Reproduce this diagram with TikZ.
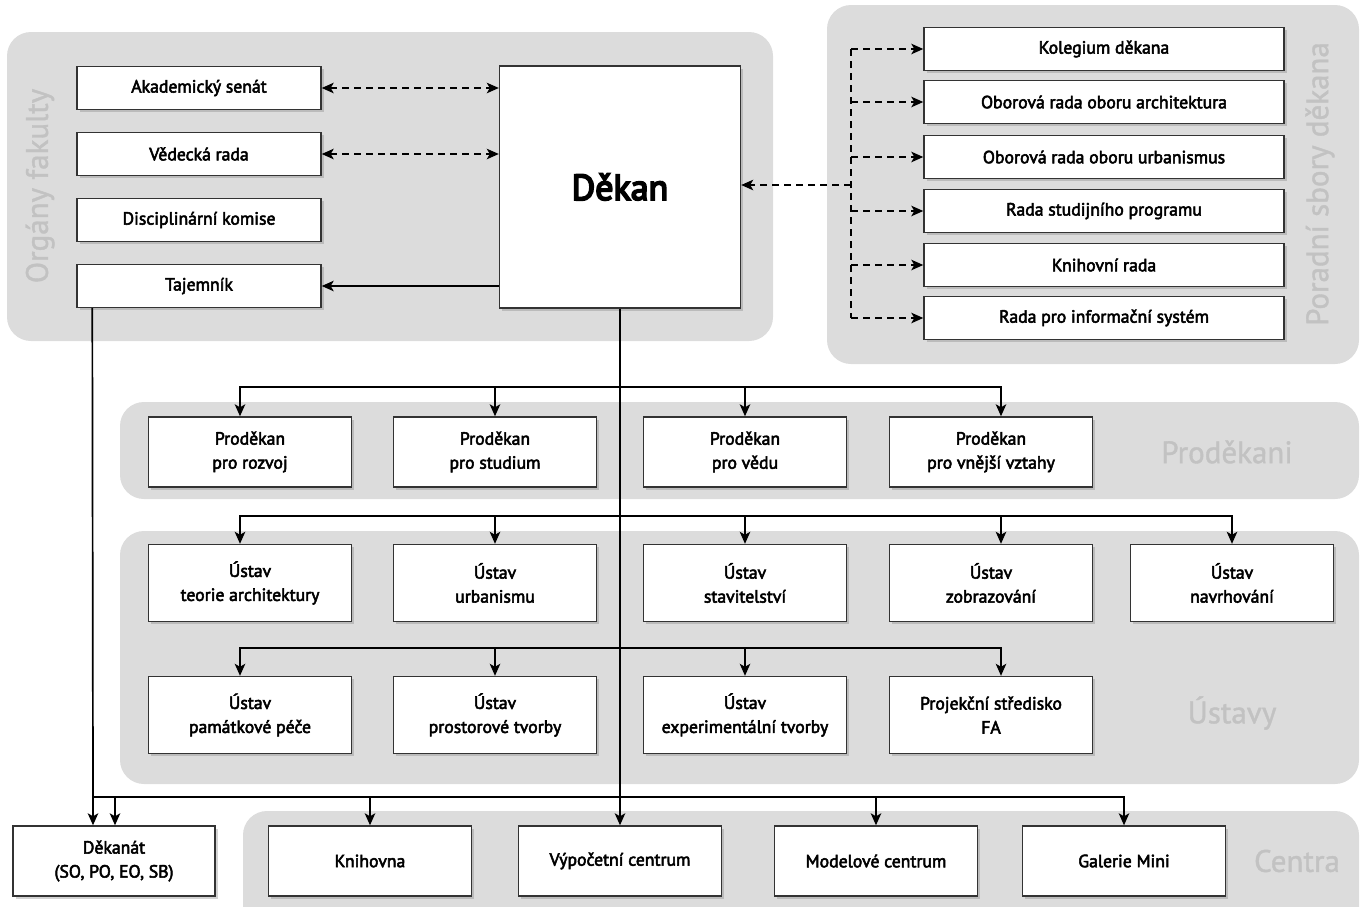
\documentclass[tikz,border=0pt]{standalone}
\usepackage{fontspec}
\setmainfont{PT Sans}
\newfontfamily\boxfont{PT Sans}[FakeBold=3]
\newfontfamily\deanfont{PT Sans}[FakeBold=5]
\newfontfamily\grpfont{PT Sans}[FakeBold=1.2]
\usetikzlibrary{arrows.meta,shadows}
\definecolor{panel}{HTML}{DCDCDC}
\definecolor{lbl}{HTML}{C2C2C2}
\definecolor{edge}{HTML}{333333}
\begin{document}
\begin{tikzpicture}[x=1pt,y=-1pt,
  >={Stealth[length=12pt,width=10.5pt,inset=3pt]},
  box/.style={draw=edge, line width=1.4pt, fill=white, align=center, inner sep=0pt,
    font=\boxfont\fontsize{17.7}{24}\selectfont,
    drop shadow={shadow xshift=2.5pt, shadow yshift=-2.5pt, opacity=0.35}},
  wbox/.style={box, minimum width=244, minimum height=43},
  rbox/.style={box, minimum width=360, minimum height=43},
  sbox/.style={box, minimum width=203, minimum height=70},
  ubox/.style={box, minimum width=203, minimum height=77},
  panelbg/.style={fill=panel, rounded corners=24pt},
  grp/.style={text=lbl, font=\grpfont\fontsize{31}{33}\selectfont},
  plain/.style={line width=1.7pt},
  dsh/.style={line width=1.7pt, dash pattern=on 7pt off 5pt}]
\useasboundingbox (0,0) rectangle (1363,906);
\clip (0,0) rectangle (1363,906);

% panels
\fill[panelbg] (7,32) rectangle (773,341);
\fill[panelbg] (827,5) rectangle (1359,364);
\fill[panelbg] (120,402) rectangle (1359,499);
\fill[panelbg] (120,531) rectangle (1359,784);
\fill[panelbg] (243,811) rectangle (1359,940);

% group labels
\node[grp, rotate=90] (lorg) at (40,186) {Orgány fakulty};
\node[grp, rotate=90] (lpor) at (1320,184) {Poradní sbory děkana};
\node[grp] (lpro) at (1227,452) {Proděkani};
\node[grp] (lust) at (1232,713) {Ústavy};
\node[grp] (lcen) at (1297,861) {Centra};

% left column
\node[wbox] (as) at (199,88) {Akademický senát};
\node[wbox] (vr) at (199,154) {Vědecká rada};
\node[wbox] (dk) at (199,220) {Disciplinární komise};
\node[wbox] (taj) at (199,286) {Tajemník};

% dean
\node[box, minimum width=241, minimum height=242, font=\deanfont\fontsize{36}{38}\selectfont] (dekan) at (620,187) {Děkan};

% advisory boards
\node[rbox] (r1) at (1104,49) {Kolegium děkana};
\node[rbox] (r2) at (1104,102) {Oborová rada oboru architektura};
\node[rbox] (r3) at (1104,157) {Oborová rada oboru urbanismus};
\node[rbox] (r4) at (1104,211) {Rada studijního programu};
\node[rbox] (r5) at (1104,265) {Knihovní rada};
\node[rbox] (r6) at (1104,318) {Rada pro informační systém};

% vice-deans
\node[sbox] (p1) at (250,452) {Proděkan\\pro rozvoj};
\node[sbox] (p2) at (495,452) {Proděkan\\pro studium};
\node[sbox] (p3) at (745,452) {Proděkan\\pro vědu};
\node[sbox] (p4) at (991,452) {Proděkan\\pro vnější vztahy};

% institutes
\node[ubox] (u1) at (250,583) {Ústav\\teorie architektury};
\node[ubox] (u2) at (495,583) {Ústav\\urbanismu};
\node[ubox] (u3) at (745,583) {Ústav\\stavitelství};
\node[ubox] (u4) at (991,583) {Ústav\\zobrazování};
\node[ubox] (u5) at (1232,583) {Ústav\\navrhování};
\node[ubox] (v1) at (250,715) {Ústav\\památkové péče};
\node[ubox] (v2) at (495,715) {Ústav\\prostorové tvorby};
\node[ubox] (v3) at (745,715) {Ústav\\experimentální tvorby};
\node[ubox] (v4) at (991,715) {Projekční středisko\\FA};

% bottom row
\node[sbox, minimum width=202] (dn) at (114,861) {Děkanát\\(SO, PO, EO, SB)};
\node[sbox] (kn) at (370,861) {Knihovna};
\node[sbox] (vc) at (620,861) {Výpočetní centrum};
\node[sbox] (mc) at (876,861) {Modelové centrum};
\node[sbox] (gm) at (1124,861) {Galerie Mini};

% left dashed / solid connectors
\draw[dsh,<->] (as.east) -- (as.east -| dekan.west);
\draw[dsh,<->] (vr.east) -- (vr.east -| dekan.west);
\draw[plain,->] (taj.east -| dekan.west) -- (taj.east);

% advisory connectors
\coordinate (jr) at (851,185);
\draw[dsh,->] (jr) -- (jr -| dekan.east);
\draw[dsh] (r1.west -| jr) -- (r6.west -| jr);
\foreach \i in {1,...,6}{\draw[dsh,->] (r\i.west -| jr) -- (r\i.west);}

% main trunk
\draw[plain,->] (dekan.south -| vc.north) -- (vc.north);
\coordinate (j1) at (620,387);
\coordinate (j2) at (620,516);
\coordinate (j3) at (620,648);
\draw[plain,->] (j1) -| ([xshift=-10pt]p1.north);
\draw[plain,->] (j1) -| (p2.north);
\draw[plain,->] (j1) -| (p3.north);
\draw[plain,->] (j1) -| ([xshift=10pt]p4.north);
\draw[plain,->] (j2) -| ([xshift=-10pt]u1.north);
\draw[plain,->] (j2) -| (u2.north);
\draw[plain,->] (j2) -| (u3.north);
\draw[plain,->] (j2) -| ([xshift=10pt]u4.north);
\draw[plain,->] (j2) -| (u5.north);
\draw[plain,->] (j3) -| ([xshift=-10pt]v1.north);
\draw[plain,->] (j3) -| (v2.north);
\draw[plain,->] (j3) -| (v3.north);
\draw[plain,->] (j3) -| ([xshift=10pt]v4.north);

% secretary branch
\coordinate (j4) at (93,797);
\draw[plain,->] ([xshift=16pt]taj.south west) -- (j4) -- ([xshift=-21pt]dn.north);
\draw[plain,->] (j4) -| ([xshift=1pt]dn.north);
\draw[plain,->] (j4) -| (kn.north);
\draw[plain,->] (j4) -| (mc.north);
\draw[plain,->] (j4) -| (gm.north);
\end{tikzpicture}
\end{document}
